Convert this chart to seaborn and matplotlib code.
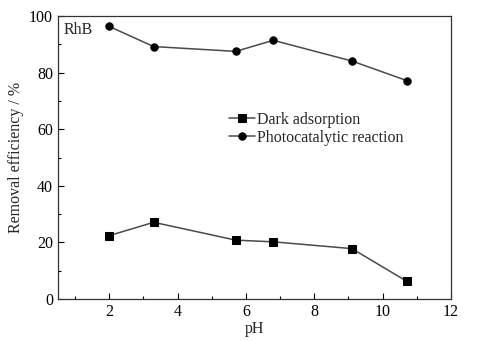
import matplotlib
matplotlib.use("Agg")
import matplotlib.pyplot as plt
from matplotlib.ticker import MultipleLocator
import seaborn as sns
import pandas as pd

ph_values = [2.0, 3.3, 5.7, 6.8, 9.1, 10.7]
dark_adsorption = [22.4, 27.1, 20.8, 20.2, 17.8, 6.3]
photocatalytic = [96.3, 89.2, 87.5, 91.4, 84.1, 77.2]
series_names = ["Dark adsorption", "Photocatalytic reaction"]

df = pd.concat([
    pd.DataFrame({"pH": ph_values, "value": dark_adsorption, "series": series_names[0]}),
    pd.DataFrame({"pH": ph_values, "value": photocatalytic, "series": series_names[1]}),
])

sns.set_style("ticks")
plt.rcParams["font.family"] = ["Liberation Serif", "DejaVu Serif"]

fig = plt.figure(figsize=(4.94, 3.41), dpi=100)
ax = fig.add_axes([58 / 494, 1 - 299 / 341, (451 - 58) / 494, (299 - 16) / 341])

sns.lineplot(data=df, x="pH", y="value", hue="series", style="series",
             markers={series_names[0]: "s", series_names[1]: "o"}, dashes=False,
             palette={series_names[0]: "#4a4a4a", series_names[1]: "#4a4a4a"},
             markersize=5.3, linewidth=1.1, markeredgecolor="black",
             ax=ax, sort=False)
for line in ax.lines:
    line.set_markerfacecolor("black")
    line.set_markeredgecolor("black")

ax.set_xlim(0.5, 12)
ax.set_ylim(0, 100)
ax.xaxis.set_major_locator(MultipleLocator(2))
ax.xaxis.set_minor_locator(MultipleLocator(1))
ax.yaxis.set_major_locator(MultipleLocator(20))
ax.yaxis.set_minor_locator(MultipleLocator(10))
ax.tick_params(which="both", direction="in", top=False, right=False,
               labelsize=11.5, colors="black", width=0.8)
ax.tick_params(which="major", length=4.5)
ax.tick_params(which="minor", length=2.5)
for s in ax.spines.values():
    s.set_color("#333333")
    s.set_linewidth(0.9)

ax.set_xlabel("pH", fontsize=11.5, labelpad=1)
ax.set_ylabel("Removal efficiency / %", fontsize=11.5, labelpad=4)
ax.text(0.015, 0.98, "RhB", transform=ax.transAxes, ha="left", va="top", fontsize=11.5)

leg = ax.legend(loc="upper left", bbox_to_anchor=(0.42, 0.685), frameon=False,
                fontsize=11.5, handlelength=1.6, handletextpad=0.15,
                labelspacing=0.15, borderaxespad=0)
for h in leg.legend_handles:
    h.set_markerfacecolor("black")
    h.set_markeredgecolor("black")

fig.savefig("out.png", dpi=100)
